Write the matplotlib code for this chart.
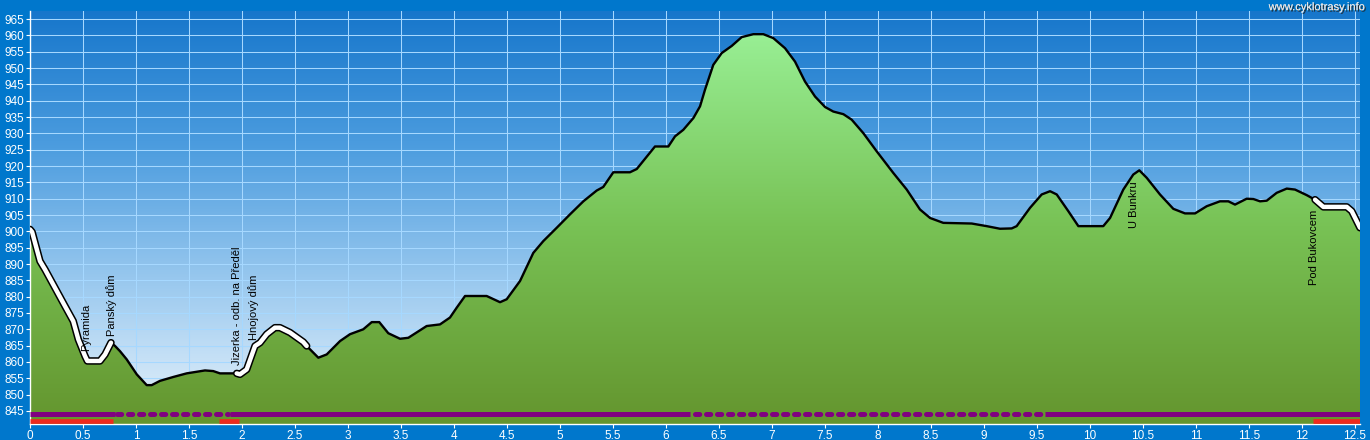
import matplotlib
matplotlib.use("Agg")
import matplotlib.pyplot as plt
import matplotlib.patheffects as pe
from matplotlib.colors import LinearSegmentedColormap
from matplotlib.patches import Polygon
import numpy as np

plt.rcParams['font.family'] = ['Liberation Sans', 'DejaVu Sans']

# profil de la trasa (km, m n.m.) -------------------------------

km = [0, 0.02, 0.094, 0.142, 0.236, 0.33, 0.408, 0.456, 0.519, 0.541,
      0.66, 0.708, 0.764, 0.802, 0.849, 0.912, 1.007, 1.101, 1.148, 1.226,
      1.352, 1.478, 1.651, 1.729, 1.792, 1.95, 1.981, 2.044, 2.123, 2.17,
      2.233, 2.311, 2.358, 2.453, 2.578, 2.61, 2.72, 2.799, 2.925, 2.956,
      3.019, 3.144, 3.224, 3.295, 3.38, 3.491, 3.569, 3.742, 3.868, 3.962,
      4.025, 4.104, 4.308, 4.434, 4.497, 4.623, 4.748, 4.842, 4.969, 5.094,
      5.22, 5.346, 5.408, 5.503, 5.66, 5.724, 5.896, 6.022, 6.085, 6.163,
      6.258, 6.321, 6.368, 6.446, 6.525, 6.62, 6.714, 6.824, 6.918, 7.012,
      7.123, 7.217, 7.311, 7.406, 7.5, 7.578, 7.673, 7.752, 7.861, 7.988,
      8.144, 8.271, 8.396, 8.491, 8.616, 8.884, 9.025, 9.151, 9.261, 9.308,
      9.434, 9.544, 9.623, 9.686, 9.795, 9.89, 10.125, 10.189, 10.314, 10.408,
      10.465, 10.535, 10.66, 10.786, 10.896, 10.991, 11.101, 11.226, 11.305, 11.368,
      11.478, 11.541, 11.604, 11.667, 11.761, 11.856, 11.934, 12.044, 12.123, 12.201,
      12.422, 12.469, 12.547]

elev = [900.6, 899.8, 890.9, 888.3, 882.7, 877.1, 872.5, 866.9, 861.8, 860.3,
        860.3, 862.3, 865.9, 864.9, 863.3, 860.8, 856.2, 852.9, 852.9, 854.2,
        855.4, 856.5, 857.4, 857.2, 856.5, 856.5, 856.2, 857.7, 864.9, 865.9,
        868.5, 870.5, 870.5, 869.0, 866.1, 864.9, 861.3, 862.3, 866.4, 867.1,
        868.5, 870.0, 872.2, 872.2, 868.8, 867.1, 867.4, 871.0, 871.5, 873.6,
        876.6, 880.2, 880.2, 878.3, 879.2, 884.8, 893.4, 897.0, 901.1, 905.2,
        909.2, 912.5, 913.6, 918.1, 918.1, 919.1, 926.0, 926.0, 929.1, 931.1,
        934.7, 938.3, 943.4, 951.0, 954.6, 956.8, 959.5, 960.4, 960.4, 959.2,
        956.1, 952.0, 945.9, 941.3, 938.1, 936.7, 935.9, 934.2, 930.1, 924.5,
        917.9, 912.8, 906.7, 904.1, 902.6, 902.4, 901.6, 900.8, 900.9, 901.6,
        907.2, 911.3, 912.3, 911.3, 906.2, 901.6, 901.6, 904.1, 912.8, 917.4,
        918.7, 916.4, 911.3, 906.9, 905.5, 905.5, 907.7, 909.2, 909.2, 908.2,
        910.0, 909.9, 909.2, 909.4, 911.8, 913.1, 912.8, 911.1, 909.7, 907.5,
        907.5, 906.2, 901.1]

# useky zvyraznene bile
highlight = [(0, 0.764), (1.95, 2.61), (12.123, 12.547)]

# pasy dole (povrch / typ cesty)
purple_solid = [(0, 0.80), (1.89, 6.23), (9.575, 12.547)]
purple_dotted = [(0.82, 1.87), (6.27, 9.56)]
red_segments = [(0, 0.78), (1.786, 1.975), (12.10, 12.547)]

# popisky bodu
labels_km = [0.528, 0.77, 1.956, 2.113, 10.415, 12.116]
labels_y = [863.4, 868.0, 859.1, 866.7, 915.3, 906.7]
labels_txt = ["Pyramida", "Panský dům", "Jizerka - odb. na Předěl",
              "Hnojový dům", "U Bunkru", "Pod Bukovcem"]
labels_va = ["bottom", "bottom", "bottom", "bottom", "top", "top"]

yticks = list(range(845, 966, 5))
xticks = [i * 0.5 for i in range(26)]
xlabels = [f"{v:g}" for v in xticks]

#----------------------------------------------------------------

X_MAX = 12.547
Y_MIN, Y_MAX = 840.9, 967.5

fig = plt.figure(figsize=(13.7, 4.4), dpi=100, facecolor='#0077cc')
ax = fig.add_axes([30 / 1370, 15.7 / 440, 1330 / 1370, (424.3 - 11) / 440])

# pozadi - prechod modre
sky = LinearSegmentedColormap.from_list("sky", ["#eaf4fc", "#9ccaef", "#4d9ddf", "#1676cb"])
grad = np.linspace(0, 1, 256).reshape(-1, 1)
ax.imshow(grad, extent=[0, X_MAX, Y_MIN, Y_MAX], origin='lower', aspect='auto',
          cmap=sky, zorder=0)

# vypln pod profilem - prechod zelene
green = LinearSegmentedColormap.from_list("green", ["#64952e", "#78c255", "#99f096"])
poly = Polygon([(km[0], Y_MIN)] + list(zip(km, elev)) + [(km[-1], Y_MIN)],
               closed=True, facecolor='none', edgecolor='none')
ax.add_patch(poly)
im = ax.imshow(grad, extent=[0, X_MAX, Y_MIN, 962], origin='lower', aspect='auto',
               cmap=green, zorder=2)
im.set_clip_path(poly)

km_a = np.array(km)
elev_a = np.array(elev)

ax.plot(km, elev, color='black', lw=1.7, solid_joinstyle='round', zorder=4)
for a, b in highlight:
    m = (km_a >= a - 1e-9) & (km_a <= b + 1e-9)
    ax.plot(km_a[m], elev_a[m], color='black', lw=5.4, solid_capstyle='round',
            solid_joinstyle='round', zorder=5)
    ax.plot(km_a[m], elev_a[m], color='white', lw=3.2, solid_capstyle='round',
            solid_joinstyle='round', zorder=6)

for a, b in purple_solid:
    ax.plot([a, b], [844.0, 844.0], color='#800080', lw=3.6, solid_capstyle='butt', zorder=7)
for a, b in purple_dotted:
    ax.plot([a, b], [844.0, 844.0], color='#800080', lw=3.6, linestyle=(0, (0.85, 1.35)),
            dash_capstyle='round', zorder=7)
for a, b in red_segments:
    ax.plot([a, b], [842.0, 842.0], color='#ee2a1e', lw=3.4, solid_capstyle='butt', zorder=7)

for x, y, t, va in zip(labels_km, labels_y, labels_txt, labels_va):
    ax.text(x, y, t, rotation=90, ha='center', va=va, fontsize=8, color='black', zorder=8)

ax.set_xlim(0, X_MAX)
ax.set_ylim(Y_MIN, Y_MAX)
ax.set_yticks(yticks)
ax.set_xticks(xticks)
ax.set_xticklabels(xlabels)
ax.grid(True, color='#a6d8ff', lw=0.75)
ax.tick_params(colors='white', labelsize=8.5, length=3, width=0.8, pad=1)
for s in ['top', 'right']:
    ax.spines[s].set_visible(False)
for s in ['left', 'bottom']:
    ax.spines[s].set_color('white')
    ax.spines[s].set_linewidth(1)

fig.text(0.9965, 0.995, "www.cyklotrasy.info", ha='right', va='top', fontsize=8,
         color='#e6e6e6',
         path_effects=[pe.withSimplePatchShadow(offset=(1, -1), shadow_rgbFace='#222222', alpha=0.9),
                       pe.Normal()])

fig.savefig("out.png", dpi=100, facecolor=fig.get_facecolor())
